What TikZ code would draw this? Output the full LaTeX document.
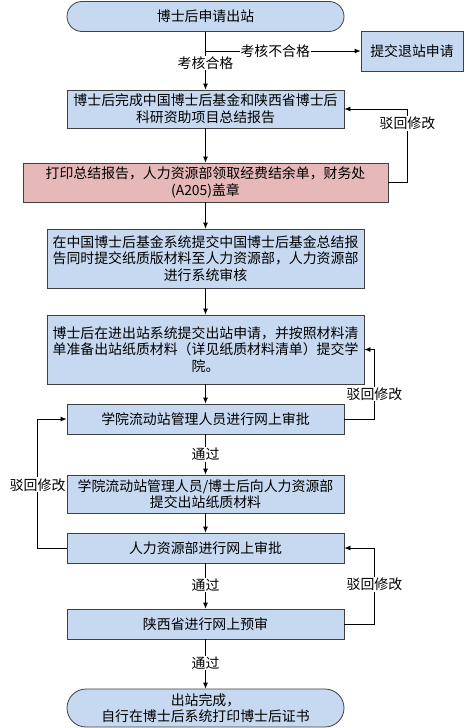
\documentclass[tikz,border=0pt]{standalone}
\usepackage{fontspec}
\setmainfont{Noto Sans CJK SC}
\usetikzlibrary{arrows.meta,backgrounds}
\definecolor{boxblue}{HTML}{C6D9F0}
\definecolor{boxpink}{HTML}{E6B8B7}
\definecolor{boxline}{HTML}{404040}

\begin{document}
\begin{tikzpicture}[
  x=1pt,
  y=-1pt,
  line width=0.8pt,
  font=\fontsize{13.9}{16.6}\selectfont,
  box/.style={
    draw=boxline,
    fill=boxblue,
    align=center,
    inner sep=2pt,
  },
  roundbox/.style={
    box,
    rounded corners=15pt,
  },
  lbl/.style={
    fill=white,
    inner sep=1pt,
  },
  arr/.style={
    -{Latex[length=6pt,width=5pt]},
  },
  show background rectangle,
  background rectangle/.style={
    fill=white,
    draw=none,
  },
]

  \useasboundingbox (0,0) rectangle (464,728);

  \node[roundbox, minimum width=277, minimum height=30] (start) at (205.5,16.5) {博士后申请出站};
  \node[box, minimum width=102, minimum height=40] (quit) at (412,51) {提交退站申请};
  \node[box, minimum width=277, minimum height=38] (report) at (205.5,109) {博士后完成中国博士后基金和陕西省博士后\\科研资助项目总结报告};
  \node[box, fill=boxpink, minimum width=365, minimum height=39] (print) at (205.5,182.5) {打印总结报告，人力资源部领取经费结余单，财务处\\(A205)盖章};
  \node[box, minimum width=317, minimum height=59] (fund) at (205.5,258.5) {在中国博士后基金系统提交中国博士后基金总结报\\告同时提交纸质版材料至人力资源部，人力资源部\\进行系统审核};
  \node[box, minimum width=317, minimum height=69] (apply) at (205.5,349.5) {博士后在进出站系统提交出站申请，并按照材料清\\单准备出站纸质材料（详见纸质材料清单）提交学\\院。};
  \node[box, minimum width=277, minimum height=30] (college) at (205.5,419) {学院流动站管理人员进行网上审批};
  \node[box, minimum width=277, minimum height=38] (paper) at (205.5,494) {学院流动站管理人员/博士后向人力资源部\\提交出站纸质材料};
  \node[box, minimum width=277, minimum height=30] (hr) at (205.5,548) {人力资源部进行网上审批};
  \node[box, minimum width=277, minimum height=30] (prov) at (205.5,624) {陕西省进行网上预审};
  \node[roundbox, rounded corners=19pt, minimum width=277, minimum height=38] (done) at (205.5,708) {出站完成，\\自行在博士后系统打印博士后证书};

  \coordinate (fork) at (205.5,51);

  \draw[arr] (start.south) -- node[lbl, pos=0.54] {考核合格} (report.north);
  \draw[arr] (fork) -- node[lbl, pos=0.45] {考核不合格} (quit.west);
  \draw[arr] (report) -- (print);
  \draw[arr] (print) -- (fund);
  \draw[arr] (fund) -- (apply);
  \draw[arr] (apply) -- (college);
  \draw[arr] (college) -- node[lbl] {通过} (paper);
  \draw[arr] (paper) -- (hr);
  \draw[arr] (hr) -- node[lbl, pos=0.48] {通过} (prov);
  \draw[arr] (prov) -- node[lbl, pos=0.48] {通过} (done);

  \draw[arr] (print.east) -- ++(19,0) |- node[lbl, pos=0.4] {驳回修改} (report.east);
  \draw[arr] (college.east) -- ++(30,0) |- node[lbl, pos=0.18] {驳回修改} (apply.east);
  \draw[arr] (hr.west) -- ++(-29,0) |- node[lbl, pos=0.245] {驳回修改} (college.west);
  \draw[arr] (prov.east) -- ++(30,0) |- node[lbl, pos=0.26] {驳回修改} (hr.east);

\end{tikzpicture}
\end{document}
